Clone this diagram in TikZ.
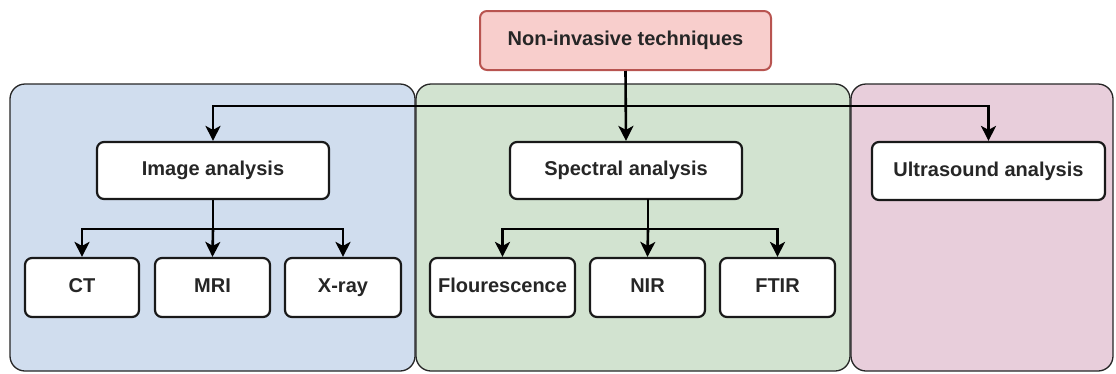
\documentclass[tikz,border=0pt]{standalone}
\usepackage{fontspec}
\setmainfont{Liberation Sans}
\usetikzlibrary{arrows.meta}
\definecolor{pblue}{HTML}{D0DDEE}
\definecolor{pgreen}{HTML}{D2E3D0}
\definecolor{ppink}{HTML}{E8CEDB}
\definecolor{tfill}{HTML}{F8CECC}
\definecolor{tdraw}{HTML}{B85450}
\tikzset{
  panel/.style={draw=black!85, line width=1.3pt, rounded corners=15pt},
  box/.style={draw=black!90, fill=white, line width=2.2pt, rounded corners=7pt, inner sep=0pt,
    font=\fontsize{20}{23}\selectfont\bfseries, text=black!85, text height=14.5pt, text depth=4pt},
  topbox/.style={box, fill=tfill, draw=tdraw, line width=2pt},
  arr/.style={line width=2.6pt, black, -{Stealth[length=15pt,width=15pt,inset=4pt]}},
  ln/.style={line width=2.6pt, black},
}
\begin{document}
\begin{tikzpicture}[x=1pt,y=-1pt]
\useasboundingbox (0,0) rectangle (1116,373);
% panels
\fill[pblue, rounded corners=15pt] (10,84) rectangle (415,371);
\draw[panel] (10,84) rectangle (415,371);
\fill[pgreen, rounded corners=15pt] (416,84) rectangle (850,371);
\draw[panel] (416,84) rectangle (850,371);
\fill[ppink, rounded corners=15pt] (851,84) rectangle (1113,371);
\draw[panel] (851,84) rectangle (1113,371);
% nodes
\node[topbox, minimum width=291pt, minimum height=59pt] (top) at (625.5,40.5) {Non-invasive techniques};
\node[box, minimum width=232pt, minimum height=57pt] (img) at (213,170.5) {Image analysis};
\node[box, minimum width=232pt, minimum height=57pt] (spec) at (626,170.5) {Spectral analysis};
\node[box, minimum width=233pt, minimum height=58pt] (us) at (988.5,171) {Ultrasound analysis};
\node[box, minimum width=114pt, minimum height=59pt] (ct) at (82,287.5) {CT};
\node[box, minimum width=115pt, minimum height=59pt] (mri) at (212.5,287.5) {MRI};
\node[box, minimum width=116pt, minimum height=59pt] (xray) at (343,287.5) {X-ray};
\node[box, minimum width=145pt, minimum height=59pt] (fl) at (502.5,287.5) {Flourescence};
\node[box, minimum width=115pt, minimum height=59pt] (nir) at (647.5,287.5) {NIR};
\node[box, minimum width=115pt, minimum height=59pt] (ftir) at (777.5,287.5) {FTIR};
% connectors
\coordinate (hub) at (626,106);
\draw[arr] (top.south) -- (spec.north);
\draw[arr] (hub) -| (img.north);
\draw[arr] (hub) -| (us.north);
\coordinate (ih) at (213,229);
\draw[ln] (img.south) -- (ih);
\draw[arr] (ih) -| (ct.north);
\draw[arr] (ih) -- (mri.north);
\draw[arr] (ih) -| (xray.north);
\coordinate (sb) at (648,199);
\coordinate (sh) at (648,229);
\draw[ln] (sb) -- (sh);
\draw[arr] (sh) -| (fl.north);
\draw[arr] (sh) -- (nir.north);
\draw[arr] (sh) -| (ftir.north);
\end{tikzpicture}
\end{document}
